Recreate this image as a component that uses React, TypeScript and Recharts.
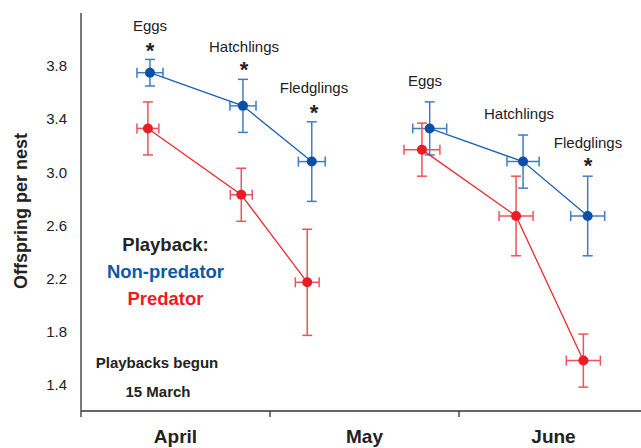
import React from 'react';
import { ScatterChart, Scatter, XAxis, YAxis, ErrorBar } from 'recharts';

// x in month units: 0 = 1 April, 1 = 1 May, 2 = 1 June
const stages = ['Eggs', 'Hatchlings', 'Fledglings'];
const monthLabels = ['April', 'May', 'June'];
const yTicks = [1.4, 1.8, 2.2, 2.6, 3.0, 3.4, 3.8];

const nonPredApril = [
  { x: 0.365, y: 3.75, ex: 0.069, ey: 0.1 },
  { x: 0.857, y: 3.5, ex: 0.069, ey: 0.2 },
  { x: 1.221, y: 3.08, ex: 0.071, ey: 0.3 },
];
const nonPredJune = [
  { x: 1.845, y: 3.33, ex: 0.09, ey: 0.2 },
  { x: 2.339, y: 3.08, ex: 0.085, ey: 0.2 },
  { x: 2.681, y: 2.67, ex: 0.09, ey: 0.3 },
];
const predApril = [
  { x: 0.354, y: 3.33, ex: 0.058, ey: 0.2 },
  { x: 0.848, y: 2.83, ex: 0.058, ey: 0.2 },
  { x: 1.197, y: 2.17, ex: 0.063, ey: 0.4 },
];
const predJune = [
  { x: 1.804, y: 3.17, ex: 0.095, ey: 0.2 },
  { x: 2.302, y: 2.67, ex: 0.09, ey: 0.3 },
  { x: 2.658, y: 1.58, ex: 0.09, ey: 0.2 },
];

// significance marks per stage label (April eggs, hatchlings, fledglings, June eggs, hatchlings, fledglings)
const significant = [true, true, true, false, false, true];

const BLUE = '#0b4fa6';
const BLUE_LINE = '#1d60b2';
const BLUE_ERR = '#3f7dc2';
const RED = '#ec1c24';
const RED_LINE = '#ee2a30';
const RED_ERR = '#f0525a';

const font = 'Arial, "Liberation Sans", Helvetica, sans-serif';

const dot = (fill: string) => (p: any) => <circle cx={p.cx} cy={p.cy} r={5} fill={fill} />;

const XTick = (props: any) => {
  const { x, y, payload } = props;
  const v = payload.value;
  if (Math.abs(v - Math.round(v)) < 1e-6) {
    return <line x1={x} y1={y} x2={x} y2={y + 6} stroke="#333" strokeWidth={1.3} />;
  }
  const idx = Math.floor(v);
  return (
    <text x={x} y={y + 32} textAnchor="middle" fontFamily={font} fontWeight="bold" fontSize={19} fill="#222">
      {monthLabels[idx]}
    </text>
  );
};

const LEFT = 81;
const TOP = 13;
const XMAX = 2.963;
const YMIN = 1.2;
const YMAX = 4.2;

// annotation layout (pixel positions of label centres / baselines)
const labelPos = [
  { cx: 150, by: 31, sy: 58 },
  { cx: 244, by: 52, sy: 77 },
  { cx: 314, by: 93, sy: 120 },
  { cx: 425, by: 86, sy: 0 },
  { cx: 519, by: 119, sy: 0 },
  { cx: 588, by: 148, sy: 173 },
];

const Annotations = () => (
  <g fontFamily={font}>
    {labelPos.map((p, i) => (
      <g key={i}>
        <text x={p.cx} y={p.by} textAnchor="middle" fontSize={15} fill="#222">
          {stages[i % 3]}
        </text>
        {significant[i] && (
          <text x={p.cx} y={p.sy} textAnchor="middle" fontSize={22} fontWeight="bold" fill="#222">
            *
          </text>
        )}
      </g>
    ))}
    <text x={165.5} y={251} textAnchor="middle" fontSize={18.5} fontWeight="bold" fill="#222">Playback:</text>
    <text x={165.5} y={278} textAnchor="middle" fontSize={18.5} fontWeight="bold" fill="#0e58a8">Non-predator</text>
    <text x={165.5} y={305} textAnchor="middle" fontSize={18.5} fontWeight="bold" fill={RED}>Predator</text>
    <text x={157} y={368} textAnchor="middle" fontSize={15} fontWeight="bold" fill="#222">Playbacks begun</text>
    <text x={158} y={397} textAnchor="middle" fontSize={15} fontWeight="bold" fill="#222">15 March</text>
  </g>
);

export default function App() {
  return (
    <div style={{ position: 'absolute', left: 0, top: 0, width: 641, height: 448, background: '#fff' }}>
      <svg width={641} height={448} style={{ position: 'absolute', left: 0, top: 0, pointerEvents: 'none' }}>
        <text
          x={0}
          y={0}
          transform="translate(27,211) rotate(-90)"
          textAnchor="middle"
          fontFamily={font}
          fontWeight="bold"
          fontSize={18}
          fill="#222"
        >
          Offspring per nest
        </text>
      </svg>
      <ScatterChart width={641} height={448} margin={{ top: TOP, right: 0, bottom: 0, left: 0 }}>
        <XAxis
          type="number"
          dataKey="x"
          domain={[0, XMAX]}
          ticks={[0, 0.5, 1, 1.5, 2, 2.5]}
          tick={<XTick />}
          tickLine={false}
          tickSize={0}
          tickMargin={0}
          height={37}
          axisLine={{ stroke: '#333', strokeWidth: 1.3 }}
          allowDataOverflow
        />
        <YAxis
          type="number"
          dataKey="y"
          domain={[YMIN, YMAX]}
          ticks={yTicks}
          tickFormatter={(v: number) => v.toFixed(1)}
          tick={{ fontFamily: font, fontSize: 15, fill: '#222' }}
          tickLine={false}
          tickSize={6}
          tickMargin={8}
          width={LEFT}
          axisLine={{ stroke: '#333', strokeWidth: 1.3 }}
          allowDataOverflow
        />
        <Scatter data={nonPredApril} isAnimationActive={false} line={{ stroke: BLUE_LINE, strokeWidth: 1.3 }} shape={dot(BLUE)}>
          <ErrorBar dataKey="ey" direction="y" width={5} stroke={BLUE_ERR} strokeWidth={1.5} isAnimationActive={false} />
          <ErrorBar dataKey="ex" direction="x" width={5} stroke={BLUE_ERR} strokeWidth={1.5} isAnimationActive={false} />
        </Scatter>
        <Scatter data={nonPredJune} isAnimationActive={false} line={{ stroke: BLUE_LINE, strokeWidth: 1.3 }} shape={dot(BLUE)}>
          <ErrorBar dataKey="ey" direction="y" width={5} stroke={BLUE_ERR} strokeWidth={1.5} isAnimationActive={false} />
          <ErrorBar dataKey="ex" direction="x" width={5} stroke={BLUE_ERR} strokeWidth={1.5} isAnimationActive={false} />
        </Scatter>
        <Scatter data={predApril} isAnimationActive={false} line={{ stroke: RED_LINE, strokeWidth: 1.3 }} shape={dot(RED)}>
          <ErrorBar dataKey="ey" direction="y" width={5} stroke={RED_ERR} strokeWidth={1.5} isAnimationActive={false} />
          <ErrorBar dataKey="ex" direction="x" width={5} stroke={RED_ERR} strokeWidth={1.5} isAnimationActive={false} />
        </Scatter>
        <Scatter data={predJune} isAnimationActive={false} line={{ stroke: RED_LINE, strokeWidth: 1.3 }} shape={dot(RED)}>
          <ErrorBar dataKey="ey" direction="y" width={5} stroke={RED_ERR} strokeWidth={1.5} isAnimationActive={false} />
          <ErrorBar dataKey="ex" direction="x" width={5} stroke={RED_ERR} strokeWidth={1.5} isAnimationActive={false} />
        </Scatter>
        <Annotations />
      </ScatterChart>
    </div>
  );
}
